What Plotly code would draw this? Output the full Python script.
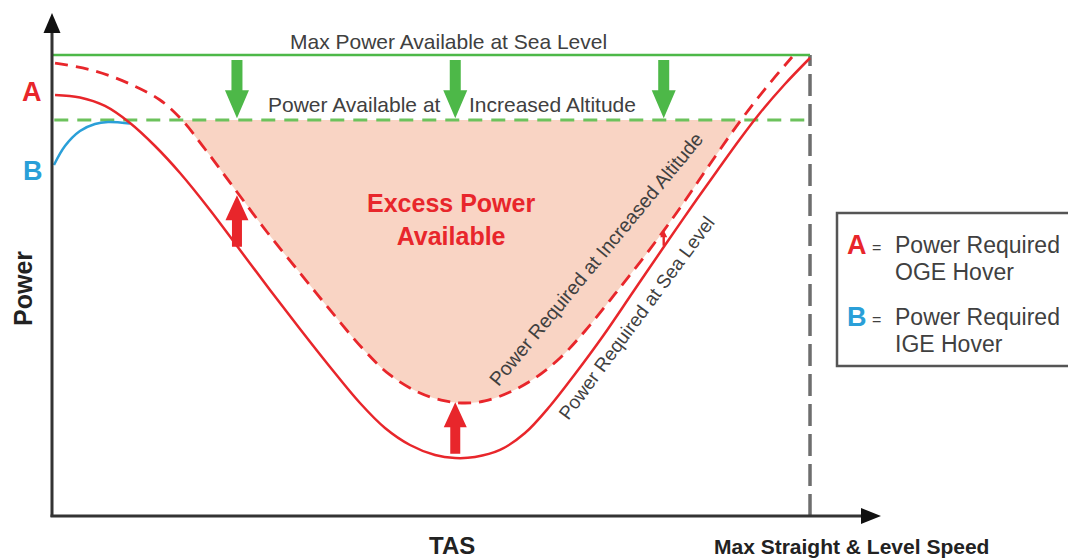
import plotly.graph_objects as go

# ---------------- data (TAS 0..100 = max straight & level speed, Power 0..100 = max power at sea level)
tas_sl = [0.40, 3.69, 6.99, 10.29, 13.59, 16.89, 20.84, 24.80, 28.76, 32.72, 36.68, 40.63, 43.93, 47.23, 50.53,
          53.17, 55.80, 59.10, 62.40, 65.70, 69.00, 72.69, 76.65, 80.61, 84.17, 87.73, 90.77, 93.40, 96.70, 100.0]
pwr_sl = [91.32, 90.78, 88.94, 85.25, 80.26, 74.40, 66.38, 57.70, 49.02, 40.56, 32.32, 24.51, 19.09, 15.40, 13.23,
          12.58, 12.80, 14.32, 18.00, 23.86, 30.80, 39.05, 48.59, 58.13, 66.59, 74.84, 81.78, 87.42, 93.71, 99.35]

tas_alt = [0.40, 5.67, 10.29, 14.25, 17.15, 20.18, 24.41, 28.36, 32.72, 36.68, 41.03, 44.59, 48.55, 51.85,
           54.49, 57.12, 60.42, 63.72, 67.02, 70.32, 74.27, 78.50, 82.85, 86.81, 90.90, 94.06, 97.63]
pwr_alt = [98.26, 96.53, 93.71, 90.24, 85.90, 79.61, 70.28, 61.61, 52.71, 44.69, 36.23, 30.59, 26.68, 24.95,
           24.51, 24.95, 26.90, 29.93, 34.27, 40.13, 48.16, 57.05, 66.81, 76.36, 85.90, 92.62, 99.57]

tas_ige = [0.26, 1.71, 3.69, 5.67, 7.39, 8.97, 10.29]
pwr_ige = [76.14, 80.26, 83.51, 85.03, 85.47, 85.36, 85.14]

pa_sea_level = 100.0
pa_altitude = 85.9
tas_max = 100.0

green_arrow_x = [24.4, 53.2, 80.7]
green_arrow_from, green_arrow_to = 98.9, 86.3
red_arrows = [(24.4, 58.4, 69.6), (53.2, 13.5, 24.7)]
small_red_arrow = (80.7, 58.6, 62.0)

# ---------------- styling / geometry helpers
# page body has an 8px margin: the figure starts at screen pixel (8, 8)
OFF = 8
W, H = 1076 - OFF, 559 - OFF
X_MIN, X_MAX = -5.805, 135.09
Y_MIN, Y_MAX = -9.328, 110.195
DX = (X_MAX - X_MIN) / W   # data units per pixel (x)
DY = (Y_MAX - Y_MIN) / H   # data units per pixel (y)

def px2x(px):
    return X_MIN + (px - OFF) * DX

def py2y(py):
    return Y_MAX - (py - OFF) * DY

RED = "#E8262B"
GREEN = "#4DB848"
BLUE = "#2A9FD8"
FILL = "#F9D4C4"
TXT = "#404040"
AX = "#333333"
FONT = "Liberation Sans, Arial, sans-serif"
SMOOTH = 1.0

def vert_arrow(x, y0, y1, head_len_px, head_hw_px, shaft_hw_px):
    """block arrow from y0 to tip y1 (vertical)"""
    sgn = 1 if y1 > y0 else -1
    hl = head_len_px * DY * sgn
    hw = head_hw_px * DX
    sw = shaft_hw_px * DX
    yb = y1 - hl
    pts = [(x - sw, y0), (x - sw, yb), (x - hw, yb), (x, y1), (x + hw, yb), (x + sw, yb), (x + sw, y0)]
    return "M " + " L ".join(f"{a:.4f},{b:.4f}" for a, b in pts) + " Z"

fig = go.Figure()

# excess power shaded area (between increased-altitude power available and power required)
i0, i1 = 4, 25
fig.add_trace(go.Scatter(x=tas_alt[i0:i1], y=pwr_alt[i0:i1], mode="lines", fill="toself",
                         fillcolor=FILL, line=dict(width=0, shape="spline", smoothing=SMOOTH),
                         hoverinfo="skip"))

# power available lines
fig.add_trace(go.Scatter(x=[0, tas_max], y=[pa_sea_level, pa_sea_level], mode="lines",
                         line=dict(color=GREEN, width=2.5), hoverinfo="skip"))
fig.add_trace(go.Scatter(x=[0.3, tas_max], y=[pa_altitude, pa_altitude], mode="lines",
                         line=dict(color="#6CC25C", width=3, dash="14px,9px"), hoverinfo="skip"))

# power required curves
fig.add_trace(go.Scatter(x=tas_alt, y=pwr_alt, mode="lines",
                         line=dict(color=RED, width=2.8, dash="13px,8px", shape="spline", smoothing=SMOOTH),
                         hoverinfo="skip"))
fig.add_trace(go.Scatter(x=tas_ige, y=pwr_ige, mode="lines",
                         line=dict(color=BLUE, width=2.5, shape="spline", smoothing=SMOOTH),
                         hoverinfo="skip"))
fig.add_trace(go.Scatter(x=tas_sl, y=pwr_sl, mode="lines",
                         line=dict(color=RED, width=2.5, shape="spline", smoothing=SMOOTH),
                         hoverinfo="skip"))

shapes = []
# vertical dashed line at max speed
shapes.append(dict(type="line", x0=tas_max, x1=tas_max, y0=0, y1=pa_sea_level,
                   line=dict(color="#6E6E6E", width=3.5, dash="22px,8px"), layer="below"))
# axes
shapes.append(dict(type="line", x0=0, x1=0, y0=py2y(517), y1=py2y(28), line=dict(color=AX, width=3)))
shapes.append(dict(type="line", x0=px2x(50.5), x1=px2x(866), y0=0, y1=0, line=dict(color=AX, width=3)))
shapes.append(dict(type="path",
                   path=f"M {px2x(52-8.5)},{py2y(33)} L {px2x(52)},{py2y(13)} L {px2x(52+8.5)},{py2y(33)} Z",
                   fillcolor="#111111", line=dict(width=0)))
shapes.append(dict(type="path",
                   path=f"M {px2x(861)},{py2y(516-8)} L {px2x(881)},{py2y(516)} L {px2x(861)},{py2y(516+8)} Z",
                   fillcolor="#111111", line=dict(width=0)))
# green arrows
for gx in green_arrow_x:
    shapes.append(dict(type="path", path=vert_arrow(gx, green_arrow_from, green_arrow_to, 28, 12, 5.5),
                       fillcolor=GREEN, line=dict(width=0)))
# red arrows
for rx, r0, r1 in red_arrows:
    shapes.append(dict(type="path", path=vert_arrow(rx, r0, r1, 25, 11.5, 5),
                       fillcolor=RED, line=dict(width=0)))
sx, s0, s1 = small_red_arrow
shapes.append(dict(type="path", path=vert_arrow(sx, s0, s1, 7, 3.5, 1.2),
                   fillcolor=RED, line=dict(width=0)))
# legend box
shapes.append(dict(type="rect", x0=px2x(837), x1=px2x(1073), y0=py2y(213), y1=py2y(366),
                   fillcolor="white", line=dict(color="#555555", width=2.5)))

ann = []
def txt(text, px, py, size, color=TXT, bold=False, xanchor="center", angle=0):
    t = f"<b>{text}</b>" if bold else text
    ann.append(dict(x=px2x(px), y=py2y(py), text=t, showarrow=False, xanchor=xanchor, yanchor="middle",
                    textangle=angle, font=dict(family=FONT, size=size, color=color)))

txt("Max Power Available at Sea Level", 448, 41, 21)
txt("Power Available at", 443, 104, 21, xanchor="right")
txt("Increased Altitude", 467, 104, 21, xanchor="left")
txt("Excess Power<br>Available", 451, 219, 25, color=RED, bold=True)
txt("A", 32, 92, 27, color=RED, bold=True)
txt("B", 33, 171, 27, color=BLUE, bold=True)
txt("Power", 23, 289, 25, color="#222222", bold=True, angle=-90)
txt("TAS", 452, 545, 24, color="#222222", bold=True)
txt("Max Straight &amp; Level Speed", 851, 546, 21, color="#222222", bold=True)
txt("Power Required at Increased Altitude", 596, 259, 19.5, angle=-50.3)
txt("Power Required at Sea Level", 636, 318, 19, angle=-53.4)
# legend text
txt("A", 857, 245, 27, color=RED, bold=True)
txt("=", 876, 247, 16)
txt("Power Required", 893, 245, 23, xanchor="left")
txt("OGE Hover", 893, 272, 23, xanchor="left")
txt("B", 857, 317, 27, color=BLUE, bold=True)
txt("=", 876, 319, 16)
txt("Power Required", 893, 317, 23, xanchor="left")
txt("IGE Hover", 893, 344, 23, xanchor="left")

fig.update_layout(
    width=W, height=H, margin=dict(l=0, r=0, t=0, b=0),
    paper_bgcolor="white", plot_bgcolor="white", showlegend=False,
    xaxis=dict(range=[X_MIN, X_MAX], visible=False, fixedrange=True),
    yaxis=dict(range=[Y_MIN, Y_MAX], visible=False, fixedrange=True),
    shapes=shapes, annotations=ann,
)

fig.write_html("out.html", config={"displayModeBar": False})
